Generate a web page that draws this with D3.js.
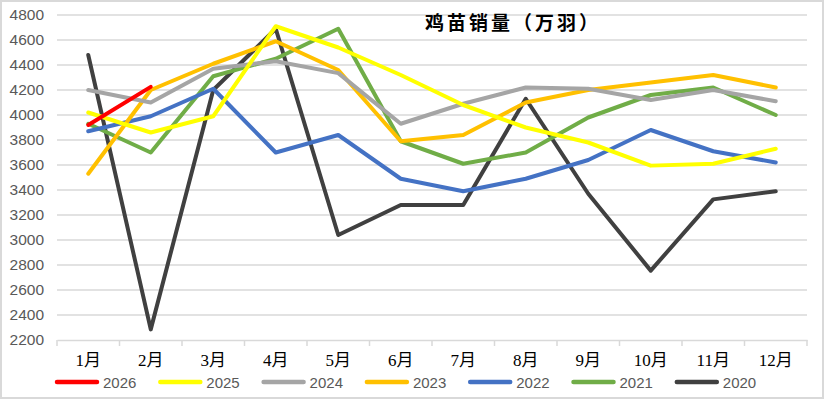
<!DOCTYPE html>
<html>
<head>
<meta charset="utf-8">
<script src="https://cdn.jsdelivr.net/npm/d3@7"></script>
<style>
  body { margin: 0; background: #fff; }
</style>
</head>
<body>
<div class="canvas"></div>
<script>
// data
const months = ['1月', '2月', '3月', '4月', '5月', '6月', '7月', '8月', '9月', '10月', '11月', '12月'];
const yTicks = [2200, 2400, 2600, 2800, 3000, 3200, 3400, 3600, 3800, 4000, 4200, 4400, 4600, 4800];

const y2026 = [3920, 4225];
const y2025 = [4020, 3860, 3990, 4710, 4540, 4320, 4080, 3900, 3780, 3595, 3610, 3730];
const y2024 = [4200, 4100, 4370, 4430, 4335, 3930, 4090, 4220, 4210, 4120, 4200, 4110];
const y2023 = [3530, 4200, 4410, 4590, 4360, 3790, 3840, 4100, 4200, 4260, 4320, 4220];
const y2022 = [3870, 3990, 4210, 3700, 3840, 3490, 3390, 3490, 3640, 3880, 3710, 3620];
const y2021 = [3930, 3700, 4310, 4450, 4690, 3790, 3610, 3700, 3980, 4160, 4220, 4000];
const y2020 = [4480, 2285, 4200, 4690, 3040, 3280, 3280, 4130, 3370, 2755, 3325, 3390];

const series = [
  { name: '2026', values: y2026, color: '#ff0000' },
  { name: '2025', values: y2025, color: '#ffff00' },
  { name: '2024', values: y2024, color: '#a5a5a5' },
  { name: '2023', values: y2023, color: '#ffc000' },
  { name: '2022', values: y2022, color: '#4472c4' },
  { name: '2021', values: y2021, color: '#70ad47' },
  { name: '2020', values: y2020, color: '#404040' }
];

const width = 824, height = 399;
const margin = { top: 15, right: 17, bottom: 59, left: 57 };
const graphWidth = width - margin.left - margin.right;
const graphHeight = height - margin.top - margin.bottom;

const svg = d3.select('.canvas')
  .append('svg')
  .attr('width', width)
  .attr('height', height);

// outer frame
svg.append('rect')
  .attr('x', 1).attr('y', 1)
  .attr('width', width - 2).attr('height', height - 2)
  .attr('fill', '#fff')
  .attr('stroke', '#d9d9d9')
  .attr('stroke-width', 2);

const graph = svg.append('g')
  .attr('transform', `translate(${margin.left}, ${margin.top})`);

// scales
const x = d3.scaleBand().domain(months).range([0, graphWidth]);
const y = d3.scaleLinear().domain([2200, 4800]).range([graphHeight, 0]);

// gridlines
graph.append('g')
  .selectAll('line')
  .data(yTicks.slice(1))
  .enter().append('line')
  .attr('x1', 0).attr('x2', graphWidth)
  .attr('y1', d => y(d)).attr('y2', d => y(d))
  .attr('stroke', '#d9d9d9')
  .attr('stroke-width', 1.5);

// y axis (labels only)
const yAxisGroup = graph.append('g')
  .call(d3.axisLeft(y).tickValues(yTicks).tickFormat(d3.format('d')).tickSize(0).tickPadding(13));
yAxisGroup.select('.domain').remove();
yAxisGroup.selectAll('text')
  .attr('fill', '#595959')
  .attr('font-family', 'Liberation Sans, Arial, sans-serif')
  .attr('font-size', 15.5);

// x axis
const xAxisGroup = graph.append('g')
  .attr('transform', `translate(0, ${graphHeight})`)
  .call(d3.axisBottom(x).tickSize(0).tickPadding(14));
xAxisGroup.select('.domain')
  .attr('stroke', '#d9d9d9')
  .attr('stroke-width', 1.5);
xAxisGroup.selectAll('text')
  .attr('fill', '#000')
  .attr('font-family', '"Liberation Serif", "Noto Sans CJK SC", serif')
  .attr('font-size', 17);

// category tick marks between bands
graph.append('g')
  .selectAll('line')
  .data(months.concat(['end']))
  .enter().append('line')
  .attr('x1', (d, i) => i * x.step())
  .attr('x2', (d, i) => i * x.step())
  .attr('y1', graphHeight)
  .attr('y2', graphHeight + 6)
  .attr('stroke', '#d9d9d9')
  .attr('stroke-width', 1.5);

// lines
const line = d3.line()
  .x((d, i) => x(months[i]) + x.bandwidth() / 2)
  .y(d => y(d));

graph.append('g')
  .selectAll('path')
  .data(series.slice().reverse())
  .enter().append('path')
  .attr('d', d => line(d.values))
  .attr('fill', 'none')
  .attr('stroke', d => d.color)
  .attr('stroke-width', 4)
  .attr('stroke-linejoin', 'round')
  .attr('stroke-linecap', 'round');

// title
svg.append('text')
  .text('鸡苗销量（万羽）')
  .attr('x', 513)
  .attr('y', 30)
  .attr('text-anchor', 'middle')
  .attr('font-family', '"Noto Sans CJK SC", sans-serif')
  .attr('font-weight', 'bold')
  .attr('font-size', 19)
  .attr('letter-spacing', 3)
  .attr('fill', '#000');

// legend
const legend = svg.append('g')
  .attr('transform', 'translate(55, 382)');

const items = legend.selectAll('g')
  .data(series)
  .enter().append('g')
  .attr('transform', (d, i) => `translate(${i * 103.3}, 0)`);

items.append('line')
  .attr('x1', 2).attr('x2', 42)
  .attr('stroke', d => d.color)
  .attr('stroke-width', 4.5)
  .attr('stroke-linecap', 'round');

items.append('text')
  .text(d => d.name)
  .attr('x', 48)
  .attr('y', 6)
  .attr('fill', '#595959')
  .attr('font-family', 'Liberation Sans, Arial, sans-serif')
  .attr('font-size', 15);
</script>
</body>
</html>
